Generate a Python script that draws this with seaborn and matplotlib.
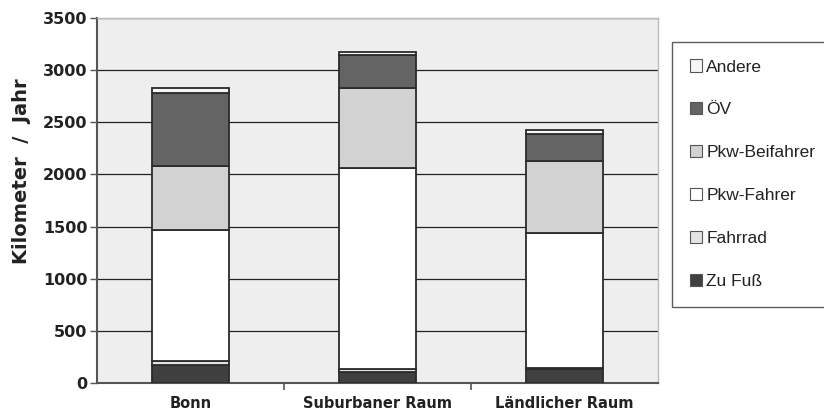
import matplotlib
matplotlib.use("Agg")
import matplotlib.pyplot as plt
import seaborn as sns
import pandas as pd

# Data
regions = ["Bonn", "Suburbaner Raum", "Ländlicher Raum"]
modes = ["Zu Fuß", "Fahrrad", "Pkw-Fahrer", "Pkw-Beifahrer", "ÖV", "Andere"]
zu_fuss = [172, 110, 138]
fahrrad = [40, 28, 5]
pkw_fahrer = [1252, 1922, 1292]
pkw_beifahrer = [616, 765, 690]
oev = [698, 320, 265]
andere = [52, 30, 35]

colors = {
    "Zu Fuß": "#404040",
    "Fahrrad": "#e4e4e4",
    "Pkw-Fahrer": "#ffffff",
    "Pkw-Beifahrer": "#d2d2d2",
    "ÖV": "#646464",
    "Andere": "#f6f6f6",
}

values = {
    "Zu Fuß": zu_fuss,
    "Fahrrad": fahrrad,
    "Pkw-Fahrer": pkw_fahrer,
    "Pkw-Beifahrer": pkw_beifahrer,
    "ÖV": oev,
    "Andere": andere,
}

sns.set_style("white")
plt.rcParams["font.family"] = ["Liberation Sans", "DejaVu Sans"]

fig = plt.figure(figsize=(8.24, 4.12), dpi=100)
ax = fig.add_axes([0.1177, 0.0704, 0.6808, 0.8856])
ax.set_facecolor("#eeeeee")

bottom = [0, 0, 0]
for m in modes:
    df = pd.DataFrame({"region": regions, "km": values[m]})
    sns.barplot(data=df, x="region", y="km", ax=ax, color=colors[m],
                width=0.41, bottom=bottom, edgecolor="#2b2b2b", linewidth=1.3,
                label=m, zorder=3)
    bottom = [b + v for b, v in zip(bottom, values[m])]

handles, labels = ax.get_legend_handles_labels()
if ax.get_legend() is not None:
    ax.get_legend().remove()

ax.set_xlim(-0.5, 2.5)
ax.set_ylim(0, 3500)
ax.set_yticks(range(0, 3501, 500))
ax.grid(axis="y", color="#222222", linewidth=0.9, zorder=0)
ax.set_axisbelow(True)

for s in ["top", "right"]:
    ax.spines[s].set_color("#bbbbbb")
    ax.spines[s].set_linewidth(1)
for s in ["left", "bottom"]:
    ax.spines[s].set_color("#555555")
    ax.spines[s].set_linewidth(1.5)

bold = {"family": ["DejaVu Sans"], "weight": "bold"}
ax.tick_params(axis="y", which="major", left=True, length=5, width=1,
               color="#555555", pad=2)
ax.tick_params(axis="x", which="major", bottom=False, pad=6)
ax.set_xticks([0.5, 1.5], minor=True)
ax.tick_params(axis="x", which="minor", bottom=True, length=5, width=1.2,
               color="#555555")
for lbl in ax.get_yticklabels():
    lbl.set_fontproperties(bold)
    lbl.set_fontsize(11.5)
    lbl.set_color("#222222")
for lbl in ax.get_xticklabels():
    lbl.set_fontproperties(bold)
    lbl.set_fontsize(10.5)
    lbl.set_color("#222222")

ax.set_xlabel("")
ax.set_ylabel("Kilometer  /  Jahr", fontsize=14, fontweight="bold",
              family=["DejaVu Sans"], color="#222222")
ax.yaxis.set_label_coords(-0.118, 0.58)

leg = fig.legend(handles[::-1], labels[::-1], loc="upper left",
                 bbox_to_anchor=(0.816, 0.898), frameon=True, fancybox=False,
                 fontsize=12.5, handlelength=0.7, handleheight=0.7,
                 handletextpad=0.25, labelspacing=1.6, borderpad=1.0,
                 borderaxespad=0)
leg.get_frame().set_edgecolor("#333333")
leg.get_frame().set_linewidth(1)
for t in leg.get_texts():
    t.set_color("#222222")
for h in leg.legend_handles:
    h.set_linewidth(0.8)
    h.set_edgecolor("#555555")

fig.savefig("out.png", dpi=100)
